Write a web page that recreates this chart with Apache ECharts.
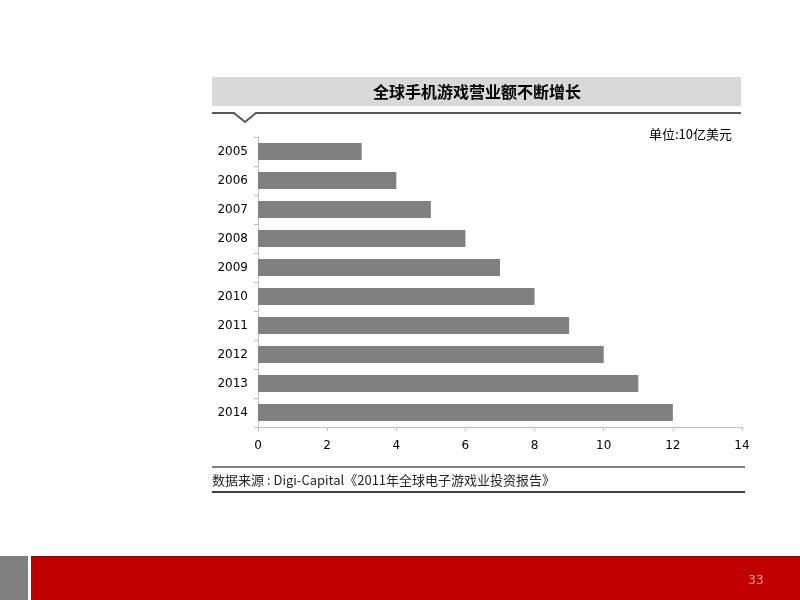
<!DOCTYPE html>
<html lang="zh">
<head>
    <meta charset="UTF-8">
    <title>全球手机游戏营业额不断增长</title>
    <script src="https://cdn.jsdelivr.net/npm/echarts@6/dist/echarts.min.js"></script>
    <style>
        html, body { margin: 0; padding: 0; background: #fff; }
    </style>
</head>
<body>
<div id="main" style="width: 800px;height:600px;"></div>
<script type="text/javascript">
    // 数据
    var years = ['2005', '2006', '2007', '2008', '2009', '2010', '2011', '2012', '2013', '2014'];
    var revenue = [3, 4, 5, 6, 7, 8, 9, 10, 11, 12];   // 单位：10亿美元
    var xTicks = [0, 2, 4, 6, 8, 10, 12, 14];

    var titleText = '全球手机游戏营业额不断增长';
    var unitText = '单位:10亿美元';
    var sourceText = '数据来源 : Digi-Capital《2011年全球电子游戏业投资报告》';
    var pageNo = '33';

    var cjk = '"Noto Sans CJK SC", sans-serif';
    var latin = '"DejaVu Sans", sans-serif';

    var myChart = echarts.init(document.getElementById('main'));

    myChart.setOption({
        backgroundColor: '#ffffff',
        animation: false,
        grid: {
            left: 258,
            right: 58,
            top: 137,
            bottom: 173,
            containLabel: false
        },
        xAxis: {
            type: 'value',
            min: xTicks[0],
            max: xTicks[xTicks.length - 1],
            interval: 2,
            axisLine: { show: true, lineStyle: { color: '#bfbfbf', width: 1 } },
            axisTick: { show: true, length: 4, lineStyle: { color: '#bfbfbf' } },
            splitLine: { show: false },
            axisLabel: {
                color: '#000',
                fontSize: 12,
                fontFamily: latin,
                margin: 13
            }
        },
        yAxis: {
            type: 'category',
            data: years,
            inverse: true,
            axisLine: { show: true, lineStyle: { color: '#bfbfbf', width: 1 } },
            axisTick: { show: true, length: 4, lineStyle: { color: '#bfbfbf' } },
            axisLabel: {
                color: '#000',
                fontSize: 12,
                fontFamily: latin,
                margin: 10
            }
        },
        series: [{
            type: 'bar',
            data: revenue,
            barWidth: 17,
            itemStyle: { color: '#808080' }
        }],
        graphic: [
            // 标题背景
            {
                type: 'rect',
                shape: { x: 212, y: 77, width: 529, height: 29 },
                style: { fill: '#d9d9d9' },
                z: 0
            },
            {
                type: 'text',
                x: 477, y: 92,
                style: {
                    text: titleText,
                    fill: '#000',
                    font: 'bold 16px ' + cjk,
                    align: 'center',
                    verticalAlign: 'middle'
                }
            },
            // 标题下方的线和小三角
            {
                type: 'polyline',
                shape: { points: [[212, 113], [234, 113], [245, 122], [256, 113], [741, 113]] },
                style: { stroke: '#595959', lineWidth: 2, fill: null }
            },
            {
                type: 'text',
                x: 732, y: 134,
                style: {
                    text: unitText,
                    fill: '#000',
                    font: '13px ' + cjk,
                    align: 'right',
                    verticalAlign: 'middle'
                }
            },
            // 数据来源
            {
                type: 'line',
                shape: { x1: 212, y1: 467, x2: 745, y2: 467 },
                style: { stroke: '#595959', lineWidth: 1.5 }
            },
            {
                type: 'text',
                x: 212, y: 480,
                style: {
                    text: sourceText,
                    fill: '#262626',
                    font: '13px ' + cjk,
                    align: 'left',
                    verticalAlign: 'middle'
                }
            },
            {
                type: 'line',
                shape: { x1: 212, y1: 492, x2: 745, y2: 492 },
                style: { stroke: '#000', lineWidth: 1.5 }
            },
            // 页脚
            {
                type: 'rect',
                shape: { x: 0, y: 556, width: 28, height: 44 },
                style: { fill: '#808080' }
            },
            {
                type: 'rect',
                shape: { x: 31, y: 556, width: 769, height: 44 },
                style: { fill: '#c00000' }
            },
            {
                type: 'line',
                shape: { x1: 31, y1: 556.5, x2: 800, y2: 556.5 },
                style: { stroke: '#8b0000', lineWidth: 1 }
            },
            {
                type: 'text',
                x: 756, y: 581,
                style: {
                    text: pageNo,
                    fill: '#e8a0a0',
                    font: '12px ' + latin,
                    align: 'center',
                    verticalAlign: 'middle'
                }
            }
        ]
    });
</script>
</body>
</html>
